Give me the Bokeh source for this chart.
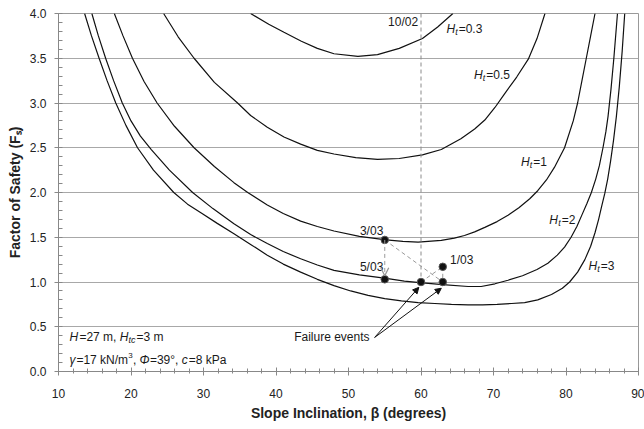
from bokeh.plotting import figure
from bokeh.models import (ColumnDataSource, FixedTicker, Arrow, OpenHead,
                          NormalHead, Range1d, PrintfTickFormatter)
from bokeh.core.properties import value
from bokeh.embed import file_html
from bokeh.resources import INLINE
import numpy as np

# ---------------- data ----------------
x_ticks = [10, 20, 30, 40, 50, 60, 70, 80, 90]
y_ticks = [0.0, 0.5, 1.0, 1.5, 2.0, 2.5, 3.0, 3.5, 4.0]

ht03_x = [36.5, 39.0, 41.1, 43.5, 45.7, 48.0, 51.3, 54.0, 57.0, 60.2, 62.3, 64.4]
ht03_y = [4.00, 3.88, 3.79, 3.69, 3.61, 3.55, 3.52, 3.54, 3.61, 3.72, 3.85, 4.00]

ht05_x = [24.5, 26.5, 28.7, 31.5, 34.7, 36.5, 38.8, 41.1, 43.4, 45.7, 48.0, 51.0,
          54.0, 57.0, 60.2, 62.8, 65.5, 67.4, 68.8, 70.2, 71.5, 73.2, 74.8, 76.0, 77.1]
ht05_y = [4.00, 3.74, 3.50, 3.23, 3.00, 2.86, 2.73, 2.62, 2.54, 2.47, 2.43, 2.39,
          2.37, 2.38, 2.42, 2.48, 2.60, 2.71, 2.81, 2.95, 3.10, 3.29, 3.49, 3.72, 4.00]

ht1_x = [17.7, 18.9, 20.2, 21.8, 23.6, 26.0, 28.7, 31.5, 34.2, 36.1, 38.8, 41.0,
         43.4, 45.7, 48.0, 51.5, 55.2, 57.5, 59.6, 62.8, 64.6, 66.0, 67.4, 68.8,
         70.5, 72.0, 73.5, 75.0, 76.1, 77.3, 78.4, 79.8, 81.0, 81.6, 82.2, 82.8, 83.4, 84.0]
ht1_y = [4.00, 3.75, 3.50, 3.24, 3.00, 2.74, 2.50, 2.29, 2.11, 2.00, 1.86, 1.765,
         1.68, 1.62, 1.57, 1.51, 1.47, 1.455, 1.445, 1.465, 1.49, 1.52, 1.56, 1.61,
         1.675, 1.745, 1.83, 1.93, 2.02, 2.14, 2.28, 2.50, 2.80, 3.00, 3.25, 3.50, 3.75, 4.00]

ht2_x = [14.6, 15.5, 16.5, 17.6, 18.8, 20.0, 21.3, 22.8, 25.3, 28.5, 31.3, 34.2,
         36.5, 38.8, 41.0, 43.4, 45.7, 48.0, 51.5, 55.2, 57.7, 60.2, 63.0, 66.5,
         68.3, 70.2, 72.0, 74.0, 76.0, 77.5, 78.8, 79.8, 80.7, 81.5, 82.2, 82.9,
         83.5, 84.1, 84.6, 85.1, 85.5, 85.8, 86.2, 86.6, 87.1]
ht2_y = [4.00, 3.75, 3.50, 3.25, 3.00, 2.80, 2.63, 2.48, 2.25, 2.00, 1.82, 1.65,
         1.53, 1.43, 1.34, 1.26, 1.19, 1.13, 1.08, 1.04, 1.01, 0.99, 0.97, 0.95,
         0.95, 0.98, 1.02, 1.07, 1.14, 1.21, 1.30, 1.39, 1.50, 1.62, 1.75, 1.88,
         2.00, 2.15, 2.30, 2.50, 2.68, 2.85, 3.15, 3.50, 4.00]

ht3_x = [13.6, 14.55, 15.6, 16.7, 17.9, 19.3, 20.9, 23.1, 25.9, 27.8, 29.8, 31.9,
         34.2, 36.5, 38.8, 41.0, 43.4, 45.7, 48.0, 50.3, 52.7, 55.0, 57.3, 59.6,
         61.9, 64.2, 66.5, 68.5, 70.5, 72.5, 74.3, 76.1, 78.0, 79.5, 80.5, 81.6,
         82.6, 83.4, 84.0, 84.5, 84.9, 85.35, 85.75, 86.15, 86.55, 86.95, 87.35,
         87.75, 88.1]
ht3_y = [4.00, 3.75, 3.50, 3.25, 3.00, 2.75, 2.50, 2.25, 2.00, 1.87, 1.765, 1.655,
         1.54, 1.42, 1.30, 1.20, 1.11, 1.03, 0.96, 0.90, 0.85, 0.815, 0.79, 0.77,
         0.76, 0.75, 0.745, 0.745, 0.75, 0.76, 0.77, 0.80, 0.86, 0.93, 1.00, 1.11,
         1.25, 1.40, 1.55, 1.70, 1.84, 1.99, 2.15, 2.35, 2.58, 2.85, 3.18,
         3.58, 4.00]

# curve labels (left edge, vertical centre)
ht_label_x = [63.5, 67.3, 73.8, 77.7, 83.1]
ht_label_y = [3.83, 3.31, 2.34, 1.69, 1.18]
ht_label_val = ["=0.3", "=0.5", "=1", "=2", "=3"]

# observed events (slope angle, factor of safety)
point_x = [55, 55, 60, 63, 63]
point_y = [1.47, 1.03, 1.00, 1.00, 1.17]

event_text = ["10/02", "3/03", "5/03", "1/03"]
event_text_x = [59.6, 54.8, 54.8, 64.0]
event_text_y = [3.90, 1.57, 1.17, 1.25]
event_align = ["right", "right", "right", "left"]

# dashed links between events
seg_x0 = [60, 55, 60, 63]
seg_y0 = [4.0, 1.47, 1.00, 1.17]
seg_x1 = [60, 63, 63, 63]
seg_y1 = [1.00, 1.00, 1.17, 1.00]

# "Failure events" callout
fail_text_x = 42.5
fail_text_y = 0.39
fail_arrow_x0 = [53.6, 53.6]
fail_arrow_y0 = [0.38, 0.38]
fail_arrow_x1 = [59.7, 62.8]
fail_arrow_y1 = [0.94, 0.93]

# parameters box position
param_x = 11.5
param_y = [0.39, 0.13]

FONT = "Liberation Sans"
TXT = "#1a1a1a"
CURVE_W = 1.2

p = figure(width=644, height=429, output_backend="svg", toolbar_location=None,
           x_range=Range1d(10, 90), y_range=Range1d(0, 4),
           min_border_left=58, min_border_right=6, min_border_top=13,
           min_border_bottom=58)
p.background_fill_color = "white"
p.border_fill_color = "white"
p.outline_line_color = "#999999"

p.xgrid.visible = False
p.ygrid.ticker = FixedTicker(ticks=y_ticks)
p.ygrid.grid_line_color = "#a8a8a8"
p.ygrid.grid_line_width = 1

p.xaxis.ticker = FixedTicker(ticks=x_ticks, minor_ticks=list(np.arange(10, 91, 2)))
p.yaxis.ticker = FixedTicker(ticks=y_ticks, minor_ticks=list(np.round(np.arange(0, 4.01, 0.1), 2)))
p.yaxis.formatter = PrintfTickFormatter(format="%.1f")

for ax in (p.xaxis, p.yaxis):
    ax.major_label_text_font = FONT
    ax.major_label_text_font_size = "12px"
    ax.major_label_text_color = "#222222"
    ax.axis_label_text_font = FONT
    ax.axis_label_text_font_size = "14px"
    ax.axis_label_text_font_style = "bold"
    ax.axis_label_text_color = "#222222"
    ax.axis_line_color = "#888888"
    ax.major_tick_line_color = "#888888"
    ax.minor_tick_line_color = "#888888"

p.xaxis.major_tick_in = 4
p.xaxis.major_tick_out = 4
p.xaxis.minor_tick_in = 3
p.xaxis.minor_tick_out = 2
p.yaxis.major_tick_in = 0
p.yaxis.major_tick_out = 4
p.yaxis.minor_tick_in = 4
p.yaxis.minor_tick_out = 0
p.xaxis.major_label_standoff = 13
p.yaxis.major_label_standoff = 8
p.xaxis.axis_label_standoff = 4
p.yaxis.axis_label_standoff = 4
p.xaxis.axis_label = "Slope Inclination, β (degrees)"
p.yaxis.axis_label = "Factor of Safety (Fₛ)"

# curves
for xs, ys in [(ht03_x, ht03_y), (ht05_x, ht05_y), (ht1_x, ht1_y),
               (ht2_x, ht2_y), (ht3_x, ht3_y)]:
    p.line(xs, ys, line_color="#111111", line_width=CURVE_W)

# dashed links
p.segment(x0=seg_x0[:1], y0=seg_y0[:1], x1=seg_x1[:1], y1=seg_y1[:1],
          line_color="#8a8a8a", line_dash="4 3", line_width=1)
p.segment(x0=seg_x0[1:], y0=seg_y0[1:], x1=seg_x1[1:], y1=seg_y1[1:],
          line_color="#9a9a9a", line_dash="4 3", line_width=1)
p.add_layout(Arrow(end=OpenHead(size=8, line_color="#999999", line_width=1.3),
                   x_start=point_x[0], y_start=point_y[0],
                   x_end=point_x[1], y_end=point_y[1] + 0.04,
                   line_color="#9a9a9a", line_dash="4 3", line_width=1))

# failure arrows
fsrc = ColumnDataSource(dict(x0=fail_arrow_x0, y0=fail_arrow_y0,
                             x1=fail_arrow_x1, y1=fail_arrow_y1))
p.add_layout(Arrow(end=NormalHead(size=6, fill_color="#111111", line_color="#111111"),
                   x_start="x0", y_start="y0", x_end="x1", y_end="y1",
                   line_color="#111111", line_width=1, source=fsrc))

# points
p.scatter(point_x, point_y, size=7.5, fill_color="#111111", line_color="#555555",
          line_width=1)

# event labels
for tx, ty, tt, al in zip(event_text_x, event_text_y, event_text, event_align):
    p.text([tx], [ty], text=[tt], text_font=value(FONT), text_font_size="12px",
           text_color=TXT, text_align=al, text_baseline="middle")

p.text([fail_text_x], [fail_text_y], text=["Failure events"], text_font=value(FONT),
       text_font_size="12px", text_color=TXT, text_baseline="middle")

# Ht labels: H (italic) + subscript t (italic) + value
p.text(ht_label_x, ht_label_y, text=["H"] * len(ht_label_x), text_font=value(FONT),
       text_font_size="12px", text_font_style="italic", text_color=TXT,
       text_baseline="middle")
p.text(ht_label_x, ht_label_y, text=["t"] * len(ht_label_x), text_font=value(FONT),
       text_font_size="9px", text_font_style="italic", text_color=TXT,
       text_baseline="middle", x_offset=8.8, y_offset=3)
p.text(ht_label_x, ht_label_y, text=ht_label_val, text_font=value(FONT),
       text_font_size="12px", text_color=TXT, text_baseline="middle",
       x_offset=12.3)

# parameter block
def seg(txt, off, line, size="12px", style="normal", dy=0):
    p.text([param_x], [param_y[line]], text=[txt], text_font=value(FONT),
           text_font_size=size, text_font_style=style, text_color=TXT,
           text_baseline="middle", x_offset=off, y_offset=dy)

seg("H", 0, 0, style="italic")
seg("=27 m,", 10.0, 0)
seg("H", 50.4, 0, style="italic")
seg("tc", 59.1, 0, size="9px", style="italic", dy=3)
seg("=3 m", 67.1, 0)

seg("γ", 0, 1, style="italic")
seg("=17 kN/m", 7.0, 1)
seg("3", 58.9, 1, size="8px", dy=-4)
seg(",", 63.5, 1)
seg("Φ", 70.2, 1, style="italic")
seg("=39°,", 80.5, 1)
seg("c", 112.3, 1, style="italic")
seg("=8 kPa", 119.3, 1)

open("out.html", "w").write(file_html(p, INLINE))
